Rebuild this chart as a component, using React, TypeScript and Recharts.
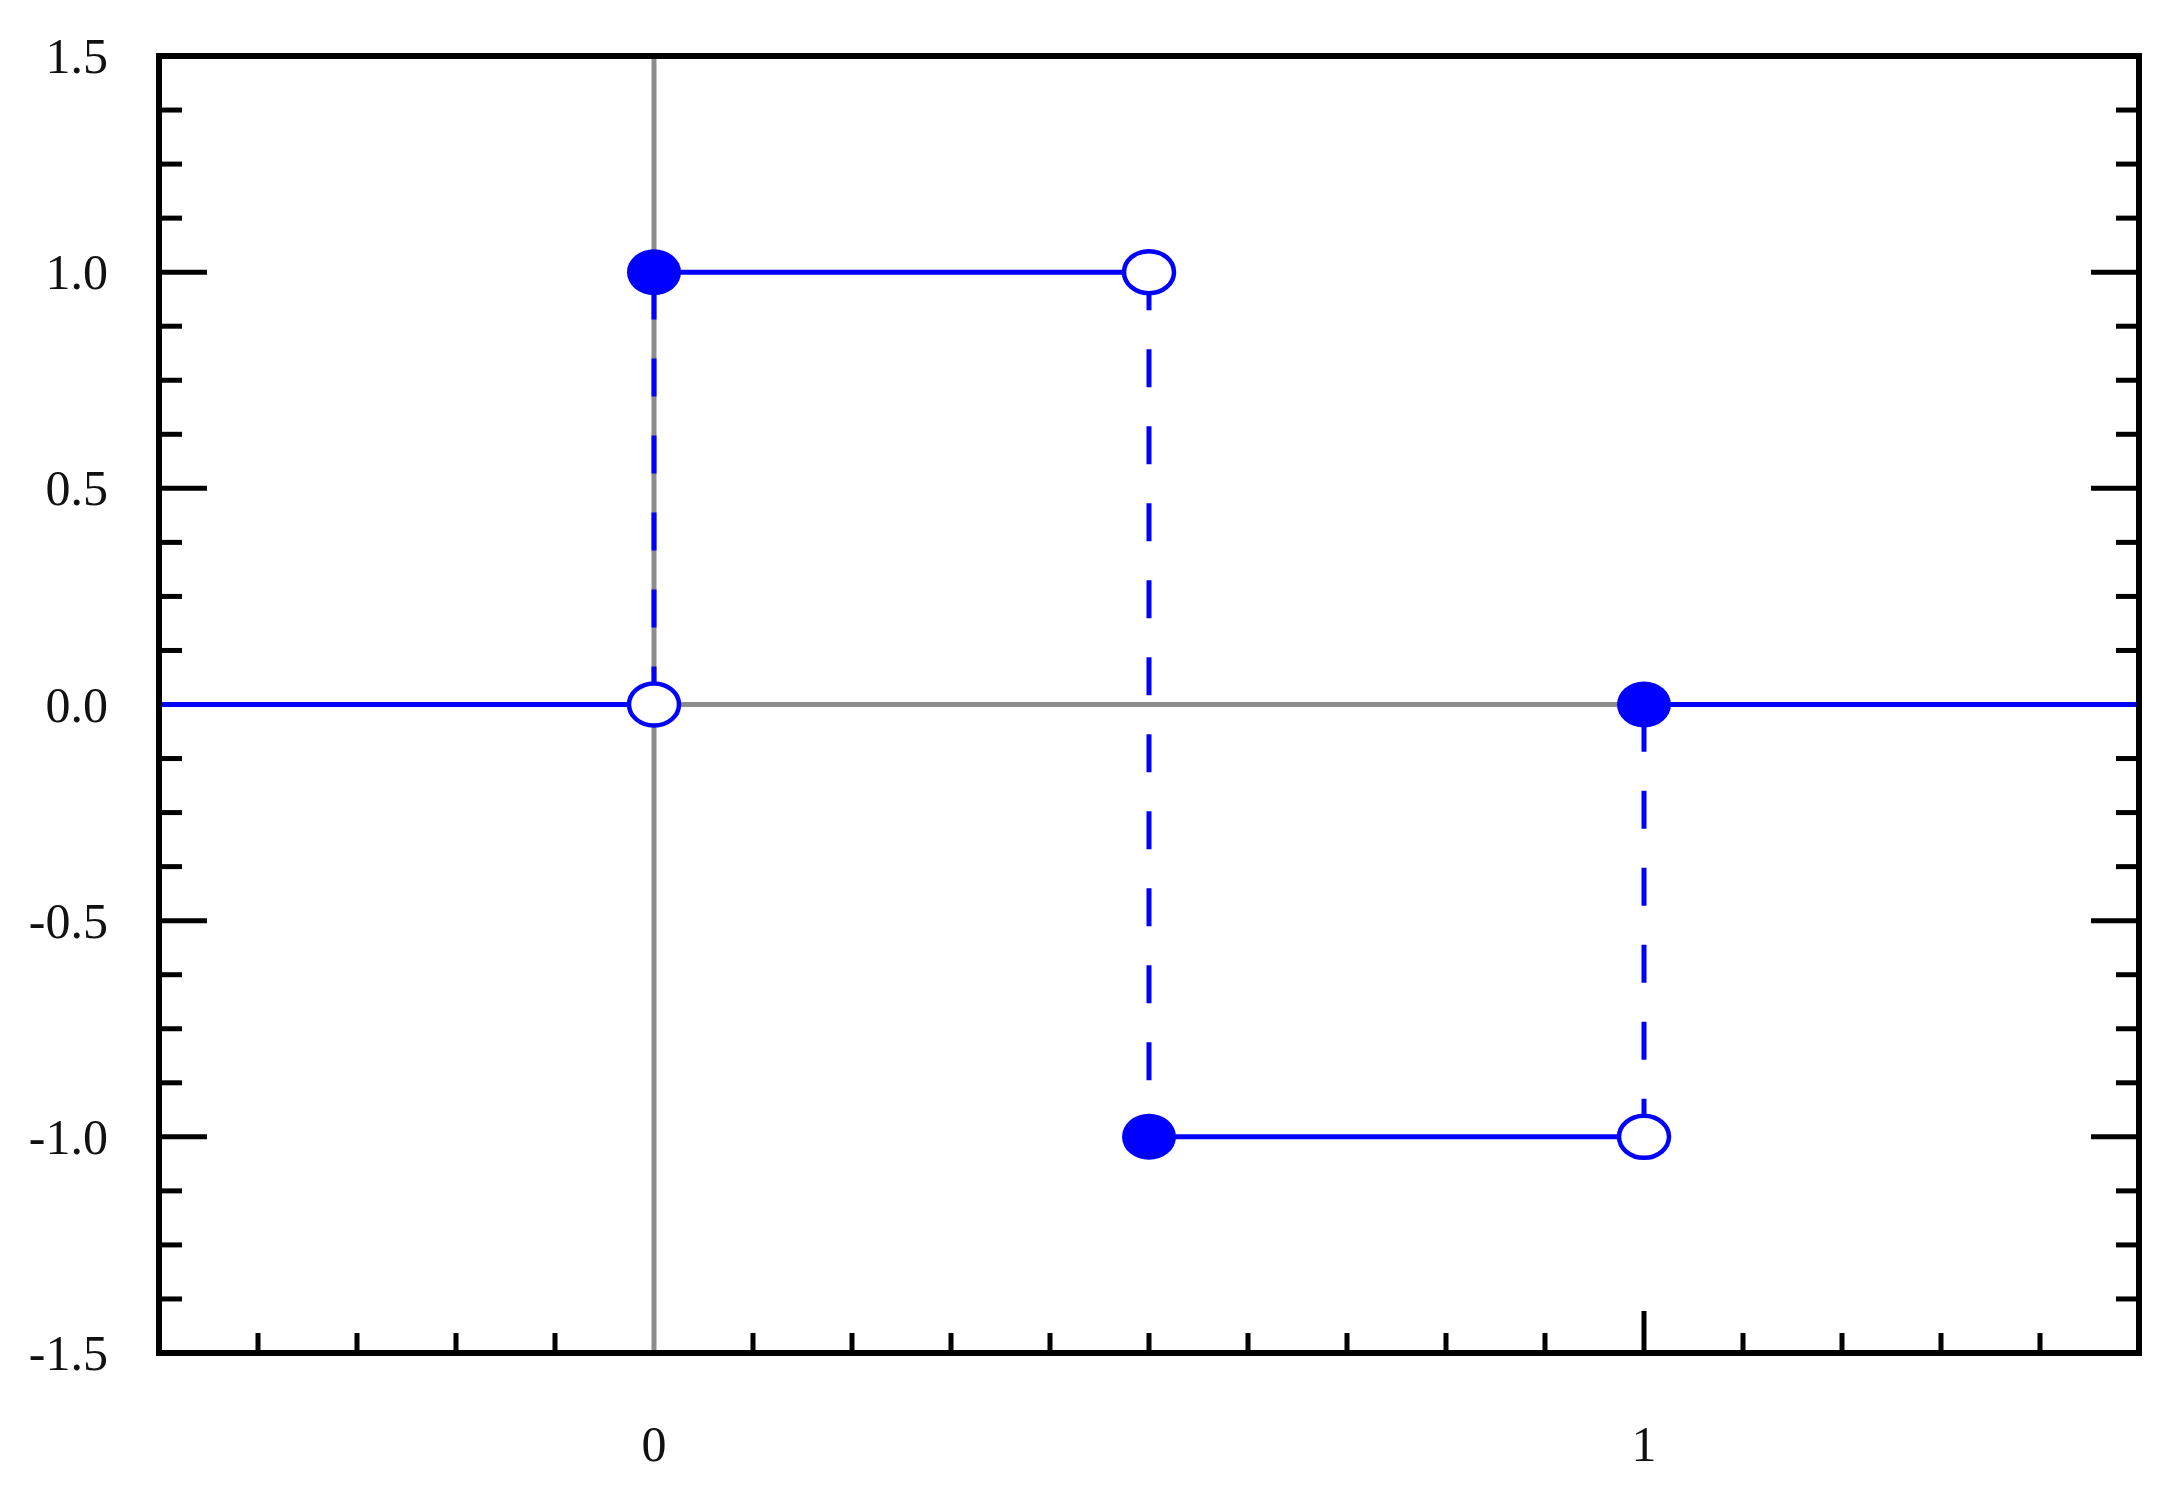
import { ComposedChart, Line, Scatter, XAxis, YAxis, ReferenceLine } from "recharts";

// Haar-type step function, drawn as separate segments
const X_TICKS = [-0.4, -0.3, -0.2, -0.1, 0, 0.1, 0.2, 0.3, 0.4, 0.5, 0.6, 0.7, 0.8, 0.9, 1, 1.1, 1.2, 1.3, 1.4];
const X_LABELED = [0, 1];
const Y_TICKS = [
  -1.5, -1.375, -1.25, -1.125, -1, -0.875, -0.75, -0.625, -0.5, -0.375, -0.25, -0.125, 0,
  0.125, 0.25, 0.375, 0.5, 0.625, 0.75, 0.875, 1, 1.125, 1.25, 1.375, 1.5,
];
const Y_LABELED = [-1.5, -1, -0.5, 0, 0.5, 1, 1.5];

const FLAT_LEFT = [{ x: -0.5, y: 0 }, { x: 0, y: 0 }];
const STEP_HIGH = [{ x: 0, y: 1 }, { x: 0.5, y: 1 }];
const STEP_LOW = [{ x: 0.5, y: -1 }, { x: 1, y: -1 }];
const FLAT_RIGHT = [{ x: 1, y: 0 }, { x: 1.5, y: 0 }];

const JUMP_UP = [{ x: 0, y: 0 }, { x: 0, y: 1 }];
const JUMP_DOWN = [{ x: 0.5, y: 1 }, { x: 0.5, y: -1 }];
const JUMP_BACK = [{ x: 1, y: -1 }, { x: 1, y: 0 }];

const CLOSED_POINTS = [{ x: 0, y: 1 }, { x: 0.5, y: -1 }, { x: 1, y: 0 }];
const OPEN_POINTS = [{ x: 0.5, y: 1 }, { x: 0, y: 0 }, { x: 1, y: -1 }];

const BLUE = "#0000ff";
const FONT = "'Liberation Serif', 'Times New Roman', serif";
const AXIS_LINE = { stroke: "#000", strokeWidth: 6, strokeLinecap: "square" as const };
const TICK_W = 5;

// ticks at 0 sit under the gray axes / blue line in the original, so they are not drawn
function BottomTick({ x, y, payload }: any) {
  const major = X_LABELED.includes(payload.value);
  return (
    <g>
      {payload.value !== 0 && (
        <line x1={x} y1={y} x2={x} y2={y - (major ? 42 : 20)} stroke="#000" strokeWidth={TICK_W} />
      )}
      {major && (
        <text x={x} y={y + 108} textAnchor="middle" fontFamily={FONT} fontSize={50} fill="#111">
          {payload.value}
        </text>
      )}
    </g>
  );
}

function TopTick({ x, y, payload }: any) {
  const major = X_LABELED.includes(payload.value);
  if (payload.value === 0) return <g />;
  return <line x1={x} y1={y} x2={x} y2={y + (major ? 42 : 20)} stroke="#000" strokeWidth={TICK_W} />;
}

function LeftTick({ x, y, payload }: any) {
  const major = Y_LABELED.includes(payload.value);
  return (
    <g>
      {payload.value !== 0 && (
        <line x1={x} y1={y} x2={x + (major ? 48 : 23)} y2={y} stroke="#000" strokeWidth={TICK_W} />
      )}
      {major && (
        <text x={x - 51} y={y} dy="0.34em" textAnchor="end" fontFamily={FONT} fontSize={50} fill="#111">
          {payload.value.toFixed(1)}
        </text>
      )}
    </g>
  );
}

function RightTick({ x, y, payload }: any) {
  const major = Y_LABELED.includes(payload.value);
  if (payload.value === 0) return <g />;
  return <line x1={x} y1={y} x2={x - (major ? 48 : 23)} y2={y} stroke="#000" strokeWidth={TICK_W} />;
}

const closedDot = (p: any) => <ellipse cx={p.cx} cy={p.cy} rx={27} ry={23} fill={BLUE} />;
const openDot = (p: any) => (
  <ellipse cx={p.cx} cy={p.cy} rx={25} ry={21} fill="#fff" stroke={BLUE} strokeWidth={4.5} />
);

export default function App() {
  const solid = [FLAT_LEFT, STEP_HIGH, STEP_LOW, FLAT_RIGHT];
  const dashed = [JUMP_UP, JUMP_DOWN, JUMP_BACK];

  return (
    <div style={{ width: 2158, height: 1472, background: "#fff" }}>
      <ComposedChart width={2158} height={1472} margin={{ top: 47, right: 26, bottom: 17, left: 0 }}>
        <XAxis
          dataKey="x"
          type="number"
          domain={[-0.5, 1.5]}
          allowDataOverflow
          ticks={X_TICKS}
          interval={0}
          tickSize={0}
          tickMargin={0}
          tickLine={false}
          tick={<BottomTick />}
          axisLine={AXIS_LINE}
          height={110}
        />
        <XAxis
          xAxisId="top"
          orientation="top"
          type="number"
          domain={[-0.5, 1.5]}
          allowDataOverflow
          ticks={X_TICKS}
          interval={0}
          tickSize={0}
          tickMargin={0}
          tickLine={false}
          tick={<TopTick />}
          axisLine={AXIS_LINE}
          height={1}
        />
        <YAxis
          type="number"
          domain={[-1.5, 1.5]}
          allowDataOverflow
          ticks={Y_TICKS}
          interval={0}
          tickSize={0}
          tickMargin={0}
          tickLine={false}
          tick={<LeftTick />}
          axisLine={AXIS_LINE}
          width={151}
        />
        <YAxis
          yAxisId="right"
          orientation="right"
          type="number"
          domain={[-1.5, 1.5]}
          allowDataOverflow
          ticks={Y_TICKS}
          interval={0}
          tickSize={0}
          tickMargin={0}
          tickLine={false}
          tick={<RightTick />}
          axisLine={AXIS_LINE}
          width={1}
        />

        {/* gray coordinate axes through the origin */}
        <ReferenceLine x={0} stroke="#8c8c8c" strokeWidth={5} />
        <ReferenceLine y={0} stroke="#8c8c8c" strokeWidth={5} />

        {solid.map((seg, i) => (
          <Line
            key={`solid-${i}`}
            data={seg}
            dataKey="y"
            type="linear"
            stroke={BLUE}
            strokeWidth={5}
            dot={false}
            activeDot={false}
            isAnimationActive={false}
          />
        ))}
        {dashed.map((seg, i) => (
          <Line
            key={`dash-${i}`}
            data={seg}
            dataKey="y"
            type="linear"
            stroke={BLUE}
            strokeWidth={5}
            strokeDasharray="38 39"
            dot={false}
            activeDot={false}
            isAnimationActive={false}
          />
        ))}

        <Scatter data={OPEN_POINTS} dataKey="y" shape={openDot} isAnimationActive={false} />
        <Scatter data={CLOSED_POINTS} dataKey="y" shape={closedDot} isAnimationActive={false} />
      </ComposedChart>
    </div>
  );
}
